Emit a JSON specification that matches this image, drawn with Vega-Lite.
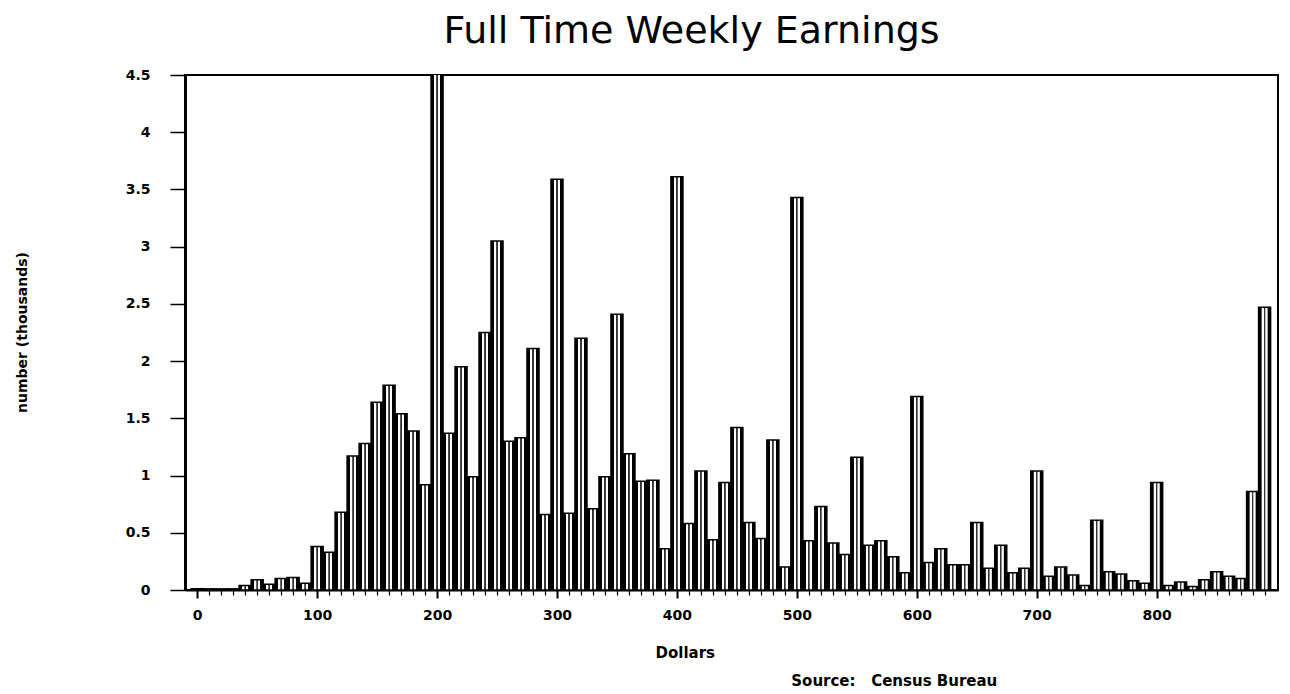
{
  "$schema": "https://vega.github.io/schema/vega-lite/v6.json",
  "autosize": "none",
  "width": 1093,
  "height": 515,
  "padding": {"left": 185, "top": 75, "right": 12, "bottom": 104},
  "background": "white",
  "title": {
    "text": "Full Time Weekly Earnings",
    "font": "DejaVu Sans",
    "fontSize": 38,
    "fontWeight": "normal",
    "color": "black",
    "anchor": "middle",
    "baseline": "bottom",
    "offset": -21,
    "dx": -40
  },
  "data": {
    "values": [
      {"dollars": 0, "count": 0.01}, {"dollars": 10, "count": 0.01}, {"dollars": 20, "count": 0.01}, {"dollars": 30, "count": 0.01},
      {"dollars": 40, "count": 0.04}, {"dollars": 50, "count": 0.09}, {"dollars": 60, "count": 0.05}, {"dollars": 70, "count": 0.1},
      {"dollars": 80, "count": 0.11}, {"dollars": 90, "count": 0.06}, {"dollars": 100, "count": 0.38}, {"dollars": 110, "count": 0.33},
      {"dollars": 120, "count": 0.68}, {"dollars": 130, "count": 1.17}, {"dollars": 140, "count": 1.28}, {"dollars": 150, "count": 1.64},
      {"dollars": 160, "count": 1.79}, {"dollars": 170, "count": 1.54}, {"dollars": 180, "count": 1.39}, {"dollars": 190, "count": 0.92},
      {"dollars": 200, "count": 4.6}, {"dollars": 210, "count": 1.37}, {"dollars": 220, "count": 1.95}, {"dollars": 230, "count": 0.99},
      {"dollars": 240, "count": 2.25}, {"dollars": 250, "count": 3.05}, {"dollars": 260, "count": 1.3}, {"dollars": 270, "count": 1.33},
      {"dollars": 280, "count": 2.11}, {"dollars": 290, "count": 0.66}, {"dollars": 300, "count": 3.59}, {"dollars": 310, "count": 0.67},
      {"dollars": 320, "count": 2.2}, {"dollars": 330, "count": 0.71}, {"dollars": 340, "count": 0.99}, {"dollars": 350, "count": 2.41},
      {"dollars": 360, "count": 1.19}, {"dollars": 370, "count": 0.95}, {"dollars": 380, "count": 0.96}, {"dollars": 390, "count": 0.36},
      {"dollars": 400, "count": 3.61}, {"dollars": 410, "count": 0.58}, {"dollars": 420, "count": 1.04}, {"dollars": 430, "count": 0.44},
      {"dollars": 440, "count": 0.94}, {"dollars": 450, "count": 1.42}, {"dollars": 460, "count": 0.59}, {"dollars": 470, "count": 0.45},
      {"dollars": 480, "count": 1.31}, {"dollars": 490, "count": 0.2}, {"dollars": 500, "count": 3.43}, {"dollars": 510, "count": 0.43},
      {"dollars": 520, "count": 0.73}, {"dollars": 530, "count": 0.41}, {"dollars": 540, "count": 0.31}, {"dollars": 550, "count": 1.16},
      {"dollars": 560, "count": 0.39}, {"dollars": 570, "count": 0.43}, {"dollars": 580, "count": 0.29}, {"dollars": 590, "count": 0.15},
      {"dollars": 600, "count": 1.69}, {"dollars": 610, "count": 0.24}, {"dollars": 620, "count": 0.36}, {"dollars": 630, "count": 0.22},
      {"dollars": 640, "count": 0.22}, {"dollars": 650, "count": 0.59}, {"dollars": 660, "count": 0.19}, {"dollars": 670, "count": 0.39},
      {"dollars": 680, "count": 0.15}, {"dollars": 690, "count": 0.19}, {"dollars": 700, "count": 1.04}, {"dollars": 710, "count": 0.12},
      {"dollars": 720, "count": 0.2}, {"dollars": 730, "count": 0.13}, {"dollars": 740, "count": 0.04}, {"dollars": 750, "count": 0.61},
      {"dollars": 760, "count": 0.16}, {"dollars": 770, "count": 0.14}, {"dollars": 780, "count": 0.08}, {"dollars": 790, "count": 0.06},
      {"dollars": 800, "count": 0.94}, {"dollars": 810, "count": 0.04}, {"dollars": 820, "count": 0.07}, {"dollars": 830, "count": 0.03},
      {"dollars": 840, "count": 0.09}, {"dollars": 850, "count": 0.16}, {"dollars": 860, "count": 0.12}, {"dollars": 870, "count": 0.1},
      {"dollars": 880, "count": 0.86}, {"dollars": 890, "count": 2.47}
    ]
  },
  "mark": {
    "type": "bar",
    "width": 12,
    "clip": true,
    "stroke": "black",
    "strokeWidth": 1.5,
    "fill": {
      "gradient": "linear",
      "x1": 0, "x2": 1, "y1": 0, "y2": 0,
      "stops": [
        {"offset": 0, "color": "#000000"},
        {"offset": 0.22, "color": "#000000"},
        {"offset": 0.28, "color": "#ffffff"},
        {"offset": 0.41, "color": "#ffffff"},
        {"offset": 0.46, "color": "#333333"},
        {"offset": 0.54, "color": "#333333"},
        {"offset": 0.59, "color": "#ffffff"},
        {"offset": 0.72, "color": "#ffffff"},
        {"offset": 0.78, "color": "#000000"},
        {"offset": 1, "color": "#000000"}
      ]
    }
  },
  "encoding": {
    "x": {
      "field": "dollars",
      "type": "quantitative",
      "scale": {"domain": [-6, 897], "nice": false, "zero": false},
      "axis": {
        "values": [0,10,20,30,40,50,60,70,80,90,100,110,120,130,140,150,160,170,180,190,200,210,220,230,240,250,260,270,280,290,300,310,320,330,340,350,360,370,380,390,400,410,420,430,440,450,460,470,480,490,500,510,520,530,540,550,560,570,580,590,600,610,620,630,640,650,660,670,680,690,700,710,720,730,740,750,760,770,780,790,800,810,820,830,840,850,860,870,880,890],
        "labelExpr": "datum.value % 100 === 0 ? format(datum.value, 'd') : ''",
        "labelFlush": false,
        "labelOverlap": false,
        "grid": false,
        "domainColor": "black",
        "domainWidth": 2,
        "tickColor": "black",
        "tickWidth": {"condition": {"test": "datum.value % 100 === 0", "value": 2}, "value": 1.2},
        "tickSize": {"condition": {"test": "datum.value % 100 === 0", "value": 8}, "value": 5},
        "labelFont": "DejaVu Sans",
        "labelFontWeight": "bold",
        "labelFontSize": 14,
        "labelColor": "black",
        "labelPadding": 10,
        "title": ["Dollars", "\u200b\u00a0\u00a0\u00a0\u00a0\u00a0\u00a0\u00a0\u00a0\u00a0\u00a0\u00a0\u00a0\u00a0\u00a0\u00a0\u00a0\u00a0\u00a0\u00a0\u00a0\u00a0\u00a0\u00a0\u00a0\u00a0\u00a0Source:\u00a0\u00a0\u00a0Census\u00a0Bureau"],
        "titleFont": "DejaVu Sans",
        "titleFontWeight": "bold",
        "titleFontSize": 15,
        "titleColor": "black",
        "titleAlign": "left",
        "titleBaseline": "middle",
        "titleLineHeight": 28,
        "titleX": 470,
        "titleY": 62
      }
    },
    "y": {
      "field": "count",
      "type": "quantitative",
      "scale": {"domain": [0, 4.5], "nice": false},
      "axis": {
        "values": [0, 0.5, 1, 1.5, 2, 2.5, 3, 3.5, 4, 4.5],
        "format": "~g",
        "grid": false,
        "domainColor": "black",
        "domainWidth": 3,
        "tickColor": "black",
        "tickWidth": 1.5,
        "tickSize": 15,
        "labelPadding": 20,
        "labelFont": "DejaVu Sans",
        "labelFontWeight": "bold",
        "labelFontSize": 14,
        "labelColor": "black",
        "title": "number (thousands)",
        "titleFont": "DejaVu Sans",
        "titleFontWeight": "bold",
        "titleFontSize": 14,
        "titleColor": "black",
        "titleAngle": -90,
        "titleAlign": "center",
        "titleBaseline": "middle",
        "titleX": -163,
        "titleY": 257
      }
    }
  },
  "config": {
    "view": {"stroke": "black", "strokeWidth": 2}
  }
}
